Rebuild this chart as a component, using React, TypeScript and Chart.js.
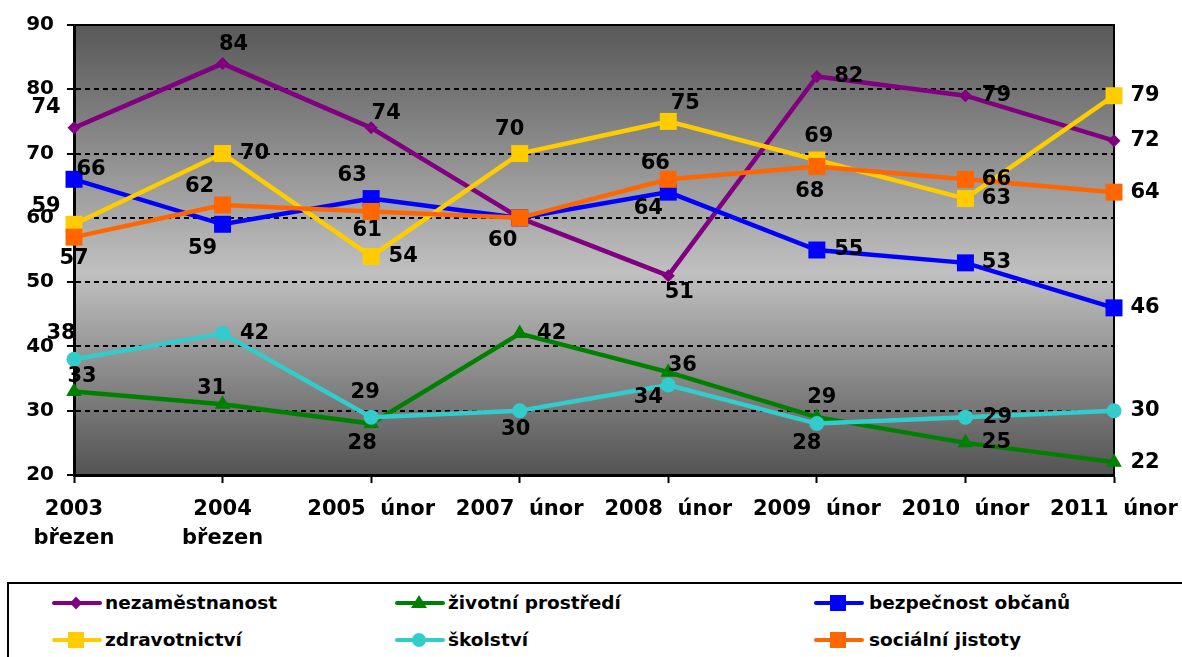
import React, { useEffect, useRef } from 'react';
import { Chart, registerables } from 'chart.js';

Chart.register(...registerables);

// ---- data ----
const categories: (string | string[])[] = [
  ['2003', 'březen'],
  ['2004', 'březen'],
  '2005  únor',
  '2007  únor',
  '2008  únor',
  '2009  únor',
  '2010  únor',
  '2011  únor',
];
const yTicks = [20, 30, 40, 50, 60, 70, 80, 90];

const nezamestnanost = [74, 84, 74, 60, 51, 82, 79, 72];
const zivotniProstredi = [33, 31, 28, 42, 36, 29, 25, 22];
const bezpecnostObcanu = [66, 59, 63, 60, 64, 55, 53, 46];
const zdravotnictvi = [59, 70, 54, 70, 75, 69, 63, 79];
const skolstvi = [38, 42, 29, 30, 34, 28, 29, 30];
const socialniJistoty = [57, 62, 61, 60, 66, 68, 66, 64];

const seriesNames = [
  'nezaměstnanost',
  'životní prostředí',
  'bezpečnost občanů',
  'zdravotnictví',
  'školství',
  'sociální jistoty',
];
const seriesValues = [
  nezamestnanost,
  zivotniProstredi,
  bezpecnostObcanu,
  zdravotnictvi,
  skolstvi,
  socialniJistoty,
];

// ---- styles ----
const COLORS = ['#800080', '#008000', '#0000FF', '#FFCC00', '#33CCCC', '#FF6600'];
const SHAPES = ['rectRot', 'triangle', 'rect', 'rect', 'circle', 'rect'];
const RADII = [6.5, 9, 12, 12, 7.5, 12];
const FONT = '"DejaVu Sans", Verdana, sans-serif';

// label placement offsets relative to the point (dx, dy); null = no label shown
const LABEL_OFFSETS: ([number, number] | null)[][] = [
  [[-28, -20], [11, -19], [15, -14], null, [11, 17], [32, 0], [31, 0], [31, 0]],
  [[8, -15], [-11, -16], [-9, 20], [32, 0], [14, -7], [5, -20], [31, 0], [31, 0]],
  [[17, -10], [-20, 24], [-19, -23], null, [-20, 16], [32, 0], [31, 0], [31, 0]],
  [[-28, -18], [32, 0], [32, 0], [-10, -24], [17, -18], [2, -23], [31, 0], [31, 0]],
  [[-13, -26], [32, 0], [-6, -25], [-4, 19], [-20, 13], [-10, 20], [32, 0], [31, 0]],
  [[0, 21], [-23, -18], [-4, 19], [-17, 23], [-13, -16], [-7, 25], [31, 0], [31, 0]],
];

const bgPlugin = {
  id: 'bgPlugin',
  beforeDraw(chart: any) {
    const { ctx, chartArea: a } = chart;
    const g = ctx.createLinearGradient(0, a.top, 0, a.bottom);
    g.addColorStop(0, '#585858');
    g.addColorStop(0.55, '#c0c0c0');
    g.addColorStop(1, '#535353');
    ctx.save();
    ctx.fillStyle = g;
    ctx.fillRect(a.left, a.top, a.right - a.left, a.bottom - a.top);
    ctx.restore();
  },
  beforeDatasetsDraw(chart: any) {
    const { ctx, chartArea: a } = chart;
    ctx.save();
    ctx.strokeStyle = '#000';
    ctx.lineWidth = 2;
    ctx.beginPath();
    ctx.moveTo(a.left, a.top);
    ctx.lineTo(a.right, a.top);
    ctx.lineTo(a.right, a.bottom);
    ctx.stroke();
    ctx.restore();
  },
};

const labelPlugin = {
  id: 'labelPlugin',
  afterDatasetsDraw(chart: any) {
    const { ctx } = chart;
    ctx.save();
    ctx.font = `bold 21px ${FONT}`;
    ctx.fillStyle = '#000';
    ctx.textAlign = 'center';
    ctx.textBaseline = 'middle';
    chart.data.datasets.forEach((ds: any, i: number) => {
      const meta = chart.getDatasetMeta(i);
      meta.data.forEach((el: any, j: number) => {
        const off = LABEL_OFFSETS[i][j];
        if (!off) return;
        ctx.fillText(String(ds.data[j]), el.x + off[0], el.y + off[1]);
      });
    });
    ctx.restore();
  },
};

function LegendIcon({ color, shape }: { color: string; shape: string }) {
  const cx = 24;
  const cy = 10;
  let marker: React.ReactNode = null;
  if (shape === 'rectRot') {
    marker = <polygon points={`${cx - 6},${cy} ${cx},${cy - 6.5} ${cx + 6},${cy} ${cx},${cy + 6.5}`} fill={color} />;
  } else if (shape === 'triangle') {
    marker = <polygon points={`${cx},${cy - 8} ${cx + 8},${cy + 5} ${cx - 8},${cy + 5}`} fill={color} />;
  } else if (shape === 'circle') {
    marker = <circle cx={cx} cy={cy} r={7} fill={color} />;
  } else {
    marker = <rect x={cx - 8} y={cy - 8} width={16} height={16} fill={color} />;
  }
  return (
    <svg width={50} height={20} style={{ display: 'block' }}>
      <line x1={2} y1={cy} x2={48} y2={cy} stroke={color} strokeWidth={4} strokeLinecap="round" />
      {marker}
    </svg>
  );
}

const LEGEND_COLS = [52, 395, 814];
const LEGEND_TEXT = [105, 448, 869];
const LEGEND_ROWS = [603, 640];

export default function App() {
  const canvasRef = useRef<HTMLCanvasElement | null>(null);

  useEffect(() => {
    if (!canvasRef.current) return;
    const chart = new Chart(canvasRef.current, {
      type: 'line',
      data: {
        labels: categories as any,
        datasets: seriesValues.map((vals, i) => ({
          label: seriesNames[i],
          data: vals,
          borderColor: COLORS[i],
          backgroundColor: COLORS[i],
          pointBackgroundColor: COLORS[i],
          pointBorderColor: COLORS[i],
          pointBorderWidth: 0,
          pointStyle: SHAPES[i] as any,
          pointRadius: RADII[i],
          borderWidth: 4.5,
          tension: 0,
          fill: false,
          clip: false as any,
          order: seriesValues.length - 1 - i,
        })),
      },
      options: {
        animation: false,
        responsive: false,
        maintainAspectRatio: false,
        devicePixelRatio: 1,
        layout: { padding: { top: 25, right: 68, bottom: 0, left: 0 } },
        plugins: {
          legend: { display: false },
          tooltip: { enabled: false },
        },
        events: [],
        scales: {
          x: {
            type: 'category',
            offset: false,
            grid: {
              display: true,
              drawOnChartArea: false,
              drawTicks: true,
              tickLength: 8,
              tickColor: '#000',
              tickWidth: 2,
            },
            border: { display: true, color: '#000', width: 3 },
            ticks: {
              color: '#000',
              font: { family: FONT, size: 21, weight: 'bold', lineHeight: 1.38 },
              padding: 12,
              maxRotation: 0,
              minRotation: 0,
              autoSkip: false,
            },
            afterFit: (s: any) => {
              s.height = 85;
              s.paddingLeft = 0;
              s.paddingRight = 0;
            },
          },
          y: {
            min: 20,
            max: 90,
            afterBuildTicks: (s: any) => {
              s.ticks = yTicks.map((v) => ({ value: v }));
            },
            ticks: {
              color: '#000',
              font: { family: FONT, size: 20, weight: 'bold' },
              padding: 13,
            },
            grid: {
              color: (ctx: any) =>
                ctx.tick && (ctx.tick.value === 20 || ctx.tick.value === 90) ? 'rgba(0,0,0,0)' : '#000',
              lineWidth: 2,
              tickColor: '#000',
              tickLength: 7,
              tickWidth: 2,
            },
            border: { display: true, color: '#000', width: 3, dash: [5, 4] },
            afterFit: (s: any) => {
              s.width = 74;
              s.paddingTop = 0;
              s.paddingBottom = 0;
            },
          },
        },
      } as any,
      plugins: [bgPlugin, labelPlugin],
    });
    return () => chart.destroy();
  }, []);

  return (
    <div
      style={{
        position: 'absolute',
        left: 0,
        top: 0,
        width: 1182,
        height: 657,
        overflow: 'hidden',
        background: '#fff',
      }}
    >
      <canvas ref={canvasRef} width={1182} height={560} style={{ position: 'absolute', left: 0, top: 0, width: 1182, height: 560 }} />
      <div
        style={{
          position: 'absolute',
          left: 7,
          top: 582,
          width: 1200,
          height: 120,
          border: '2px solid #000',
          boxSizing: 'border-box',
        }}
      />
      {seriesNames.map((name, i) => {
        const col = i % 3;
        const row = Math.floor(i / 3);
        const cy = LEGEND_ROWS[row];
        return (
          <React.Fragment key={name}>
            <div style={{ position: 'absolute', left: LEGEND_COLS[col], top: cy - 10 }}>
              <LegendIcon color={COLORS[i]} shape={SHAPES[i]} />
            </div>
            <div
              style={{
                position: 'absolute',
                left: LEGEND_TEXT[col],
                top: cy - 12,
                height: 24,
                lineHeight: '24px',
                fontFamily: FONT,
                fontWeight: 'bold',
                fontSize: 18.5,
                color: '#000',
                whiteSpace: 'nowrap',
              }}
            >
              {name}
            </div>
          </React.Fragment>
        );
      })}
    </div>
  );
}
